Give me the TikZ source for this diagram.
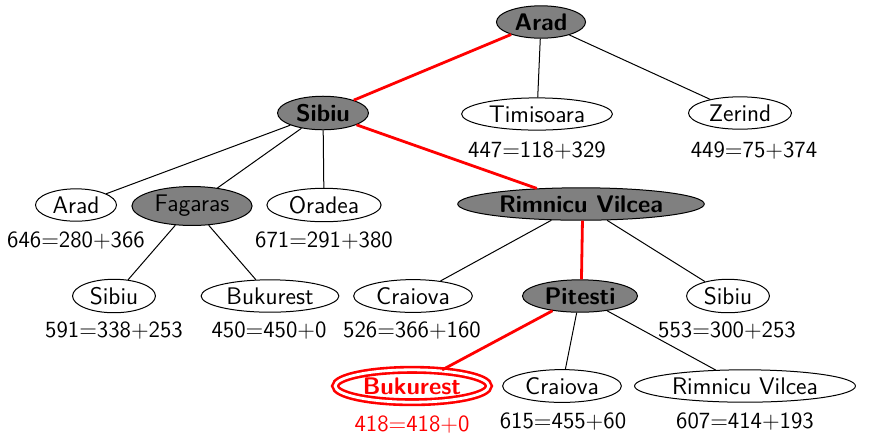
\documentclass[tikz,border=0pt]{standalone}
\usetikzlibrary{shapes.geometric}
\begin{document}
\begin{tikzpicture}[x=0.5pt,y=-0.5pt,
  every node/.style={font=\sffamily\fontsize{11.6}{14}\selectfont},
  city/.style={ellipse,draw,line width=0.5pt,inner xsep=2.6pt,inner ysep=1.5pt,font=\sffamily\fontsize{12}{14}\selectfont},
  exp/.style={city,fill=gray,font=\sffamily\bfseries\fontsize{12}{14}\selectfont},
  expn/.style={city,fill=gray},
  goal/.style={city,draw=red,line width=1.3pt,double=white,double distance=1.4pt,text=red,font=\sffamily\bfseries\fontsize{12}{14}\selectfont},
  lab/.style={inner sep=0pt},
  edge/.style={line width=0.5pt},
  path/.style={draw=red,line width=1.4pt}]
\useasboundingbox (0,0) rectangle (876,436);
% row 1
\node[exp] (arad) at (541,22) {Arad};
% row 2
\node[exp] (sib) at (323,113) {Sibiu};
\node[city] (tim) at (537,114) {Timisoara};
\node[city] (zer) at (740,113) {Zerind};
\node[lab] (ltim) at (537,151) {447=118+329};
\node[lab] (lzer) at (754,151) {449=75+374};
% row 3
\node[city] (arad2) at (76,205) {Arad};
\node[expn] (fag) at (192,206) {Fagaras};
\node[city] (ora) at (324,205) {Oradea};
\node[exp] (rv) at (581,204) {Rimnicu Vilcea};
\node[lab] (larad2) at (76,241) {646=280+366};
\node[lab] (lora) at (324,241) {671=291+380};
% row 4
\node[city] (sib2) at (114,296) {Sibiu};
\node[city] (buk1) at (270,296) {Bukurest};
\node[city] (cra1) at (413,296) {Craiova};
\node[exp] (pit) at (580,296) {Pitesti};
\node[city] (sib3) at (728,296) {Sibiu};
\node[lab] (lsib2) at (114,331) {591=338+253};
\node[lab] (lbuk1) at (269,331) {450=450+0};
\node[lab] (lcra1) at (412,331) {526=366+160};
\node[lab] (lsib3) at (727,331) {553=300+253};
% row 5
\node[goal] (buk2) at (412,386) {Bukurest};
\node[city] (cra2) at (562,386) {Craiova};
\node[city] (rv2) at (745,386) {Rimnicu Vilcea};
\node[lab,text=red] (lbuk2) at (412,425) {418=418+0};
\node[lab] (lcra2) at (563,422) {615=455+60};
\node[lab] (lrv2) at (745,422) {607=414+193};
% edges
\draw[path] (arad) -- (sib);
\draw[edge] (arad) -- (tim);
\draw[edge] (arad) -- (zer);
\draw[edge] (sib) -- (arad2);
\draw[edge] (sib) -- (fag);
\draw[edge] (sib) -- (ora);
\draw[path] (sib) -- (rv);
\draw[edge] (fag) -- (sib2);
\draw[edge] (fag) -- (buk1);
\draw[edge] (rv) -- (cra1);
\draw[path] (rv.-85) -- (pit.85);
\draw[edge] (rv) -- (sib3);
\draw[path] (pit) -- (buk2);
\draw[edge] (pit) -- (cra2);
\draw[edge] (pit) -- (rv2);
\end{tikzpicture}
\end{document}
